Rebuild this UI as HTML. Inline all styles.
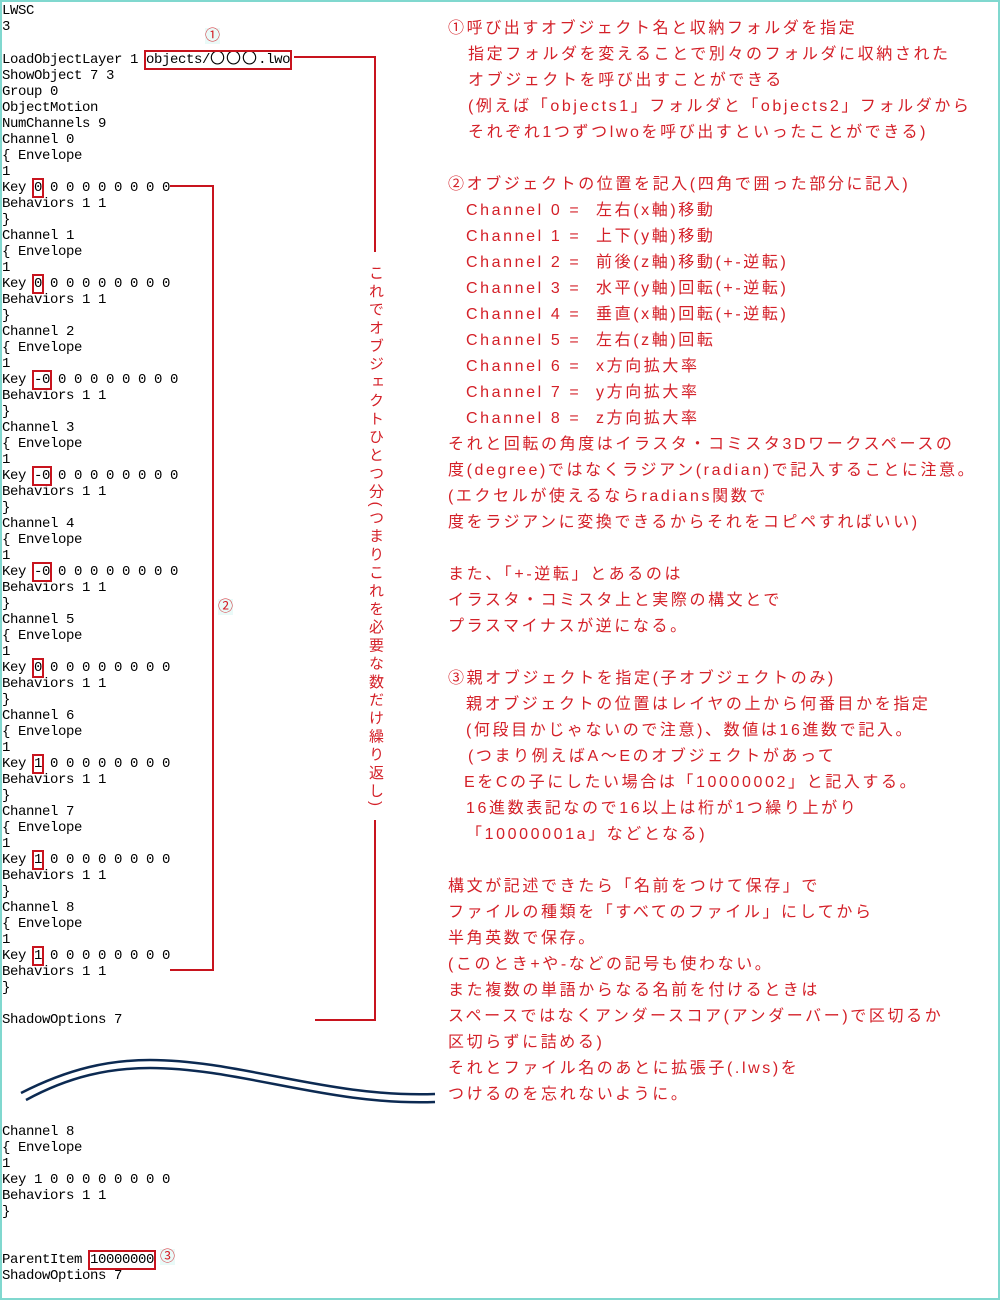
<!DOCTYPE html>
<html><head><meta charset="utf-8"><style>
body{margin:0;width:1000px;height:1300px;overflow:hidden;background:#fff;position:relative}
.frame{position:absolute;left:0;top:0;width:996px;height:1296px;border:2px solid #80d8cf}
pre{position:absolute;left:2px;top:3px;margin:0;font-family:"Liberation Mono",monospace;font-size:14px;letter-spacing:-0.4px;line-height:16px;color:#000}
.b{outline:2px solid #c8141e;outline-offset:0}
.o{font-family:"Noto Sans CJK JP",sans-serif;font-size:15px;letter-spacing:1px;line-height:14px}
.r{position:absolute;font-family:"Liberation Sans","Noto Sans CJK JP",sans-serif;font-size:16px;color:#d42028;letter-spacing:2.6px;white-space:nowrap;line-height:20px}
.v{position:absolute;left:366px;top:265px;writing-mode:vertical-rl;font-family:"Liberation Sans","Noto Sans CJK JP",sans-serif;font-size:15px;letter-spacing:3.2px;color:#d42028;line-height:18px}
.c{position:absolute;font-family:"Liberation Sans","Noto Sans CJK JP",sans-serif;font-size:15px;color:#d42028;background:#eafaf8;line-height:16px}
</style></head><body>
<div class="frame"></div>
<pre>LWSC
3

LoadObjectLayer 1 <span class="b">objects/<span class="o">〇〇〇</span>.lwo</span>
ShowObject 7 3
Group 0
ObjectMotion
NumChannels 9
Channel 0
{ Envelope
1
Key <span class="b">0</span> 0 0 0 0 0 0 0 0
Behaviors 1 1
}
Channel 1
{ Envelope
1
Key <span class="b">0</span> 0 0 0 0 0 0 0 0
Behaviors 1 1
}
Channel 2
{ Envelope
1
Key <span class="b">-0</span> 0 0 0 0 0 0 0 0
Behaviors 1 1
}
Channel 3
{ Envelope
1
Key <span class="b">-0</span> 0 0 0 0 0 0 0 0
Behaviors 1 1
}
Channel 4
{ Envelope
1
Key <span class="b">-0</span> 0 0 0 0 0 0 0 0
Behaviors 1 1
}
Channel 5
{ Envelope
1
Key <span class="b">0</span> 0 0 0 0 0 0 0 0
Behaviors 1 1
}
Channel 6
{ Envelope
1
Key <span class="b">1</span> 0 0 0 0 0 0 0 0
Behaviors 1 1
}
Channel 7
{ Envelope
1
Key <span class="b">1</span> 0 0 0 0 0 0 0 0
Behaviors 1 1
}
Channel 8
{ Envelope
1
Key <span class="b">1</span> 0 0 0 0 0 0 0 0
Behaviors 1 1
}

ShadowOptions 7






Channel 8
{ Envelope
1
Key 1 0 0 0 0 0 0 0 0
Behaviors 1 1
}


ParentItem <span class="b">10000000</span>
ShadowOptions 7</pre>
<svg width="1000" height="1300" style="position:absolute;left:0;top:0">
<g fill="none" stroke="#c8141e" stroke-width="2">
<polyline points="170,186 213,186 213,970 170,970"/>
<polyline points="294,57 375,57 375,252"/>
<polyline points="375,820 375,1020 315,1020"/>
</g>
<g fill="none" stroke="#0c2a52" stroke-width="2.5">
<path d="M21,1093 C70,1068 110,1060 150,1060 C240,1060 330,1098 435,1094"/>
<path d="M26,1100 C70,1076 110,1068 150,1068 C240,1068 330,1106 435,1102"/>
</g>
</svg>
<div class="c" style="left:205px;top:28px">①</div>
<div class="c" style="left:218px;top:599px">②</div>
<div class="c" style="left:160px;top:1249px">③</div>
<div class="v">これでオブジェクトひとつ分(つまりこれを必要な数だけ繰り返し)</div>

<div class="r" style="left:448px;top:19px">①呼び出すオブジェクト名と収納フォルダを指定</div>
<div class="r" style="left:468px;top:45px">指定フォルダを変えることで別々のフォルダに収納された</div>
<div class="r" style="left:468px;top:71px">オブジェクトを呼び出すことができる</div>
<div class="r" style="left:468px;top:97px">(例えば「objects1」フォルダと「objects2」フォルダから</div>
<div class="r" style="left:468px;top:123px">それぞれ1つずつlwoを呼び出すといったことができる)</div>

<div class="r" style="left:448px;top:175px">②オブジェクトの位置を記入(四角で囲った部分に記入)</div>
<div class="r" style="left:466px;top:201px">Channel 0 =<span style="position:absolute;left:130px">左右(x軸)移動</span></div>
<div class="r" style="left:466px;top:227px">Channel 1 =<span style="position:absolute;left:130px">上下(y軸)移動</span></div>
<div class="r" style="left:466px;top:253px">Channel 2 =<span style="position:absolute;left:130px">前後(z軸)移動(+-逆転)</span></div>
<div class="r" style="left:466px;top:279px">Channel 3 =<span style="position:absolute;left:130px">水平(y軸)回転(+-逆転)</span></div>
<div class="r" style="left:466px;top:305px">Channel 4 =<span style="position:absolute;left:130px">垂直(x軸)回転(+-逆転)</span></div>
<div class="r" style="left:466px;top:331px">Channel 5 =<span style="position:absolute;left:130px">左右(z軸)回転</span></div>
<div class="r" style="left:466px;top:357px">Channel 6 =<span style="position:absolute;left:130px">x方向拡大率</span></div>
<div class="r" style="left:466px;top:383px">Channel 7 =<span style="position:absolute;left:130px">y方向拡大率</span></div>
<div class="r" style="left:466px;top:409px">Channel 8 =<span style="position:absolute;left:130px">z方向拡大率</span></div>
<div class="r" style="left:448px;top:435px">それと回転の角度はイラスタ・コミスタ3Dワークスペースの</div>
<div class="r" style="left:448px;top:461px">度(degree)ではなくラジアン(radian)で記入することに注意。</div>
<div class="r" style="left:448px;top:487px">(エクセルが使えるならradians関数で</div>
<div class="r" style="left:448px;top:513px">度をラジアンに変換できるからそれをコピペすればいい)</div>

<div class="r" style="left:448px;top:565px">また、「+-逆転」とあるのは</div>
<div class="r" style="left:448px;top:591px">イラスタ・コミスタ上と実際の構文とで</div>
<div class="r" style="left:448px;top:617px">プラスマイナスが逆になる。</div>

<div class="r" style="left:448px;top:669px">③親オブジェクトを指定(子オブジェクトのみ)</div>
<div class="r" style="left:466px;top:695px">親オブジェクトの位置はレイヤの上から何番目かを指定</div>
<div class="r" style="left:466px;top:721px">(何段目かじゃないので注意)、数値は16進数で記入。</div>
<div class="r" style="left:468px;top:747px">(つまり例えばA～Eのオブジェクトがあって</div>
<div class="r" style="left:464px;top:773px">EをCの子にしたい場合は「10000002」と記入する。</div>
<div class="r" style="left:466px;top:799px">16進数表記なので16以上は桁が1つ繰り上がり</div>
<div class="r" style="left:466px;top:825px">「10000001a」などとなる)</div>

<div class="r" style="left:448px;top:877px">構文が記述できたら「名前をつけて保存」で</div>
<div class="r" style="left:448px;top:903px">ファイルの種類を「すべてのファイル」にしてから</div>
<div class="r" style="left:448px;top:929px">半角英数で保存。</div>
<div class="r" style="left:448px;top:955px">(このとき+や-などの記号も使わない。</div>
<div class="r" style="left:448px;top:981px">また複数の単語からなる名前を付けるときは</div>
<div class="r" style="left:448px;top:1007px">スペースではなくアンダースコア(アンダーバー)で区切るか</div>
<div class="r" style="left:448px;top:1033px">区切らずに詰める)</div>
<div class="r" style="left:448px;top:1059px">それとファイル名のあとに拡張子(.lws)を</div>
<div class="r" style="left:448px;top:1085px">つけるのを忘れないように。</div>
</body></html>
